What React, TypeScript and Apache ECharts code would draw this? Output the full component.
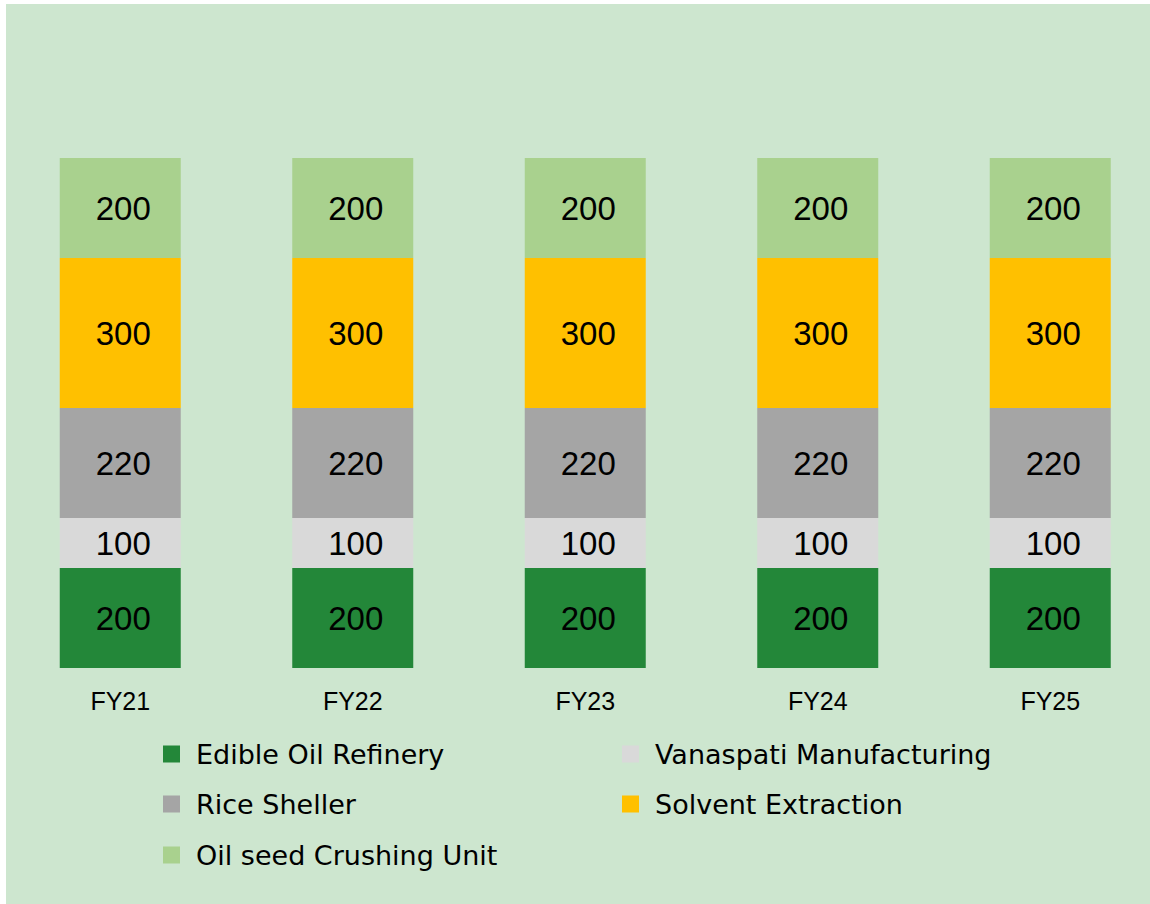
import React, { useEffect, useRef } from "react";
import * as echarts from "echarts";

const categories = ["FY21", "FY22", "FY23", "FY24", "FY25"];
const edibleOil = [200, 200, 200, 200, 200];
const vanaspati = [100, 100, 100, 100, 100];
const riceSheller = [220, 220, 220, 220, 220];
const solvent = [300, 300, 300, 300, 300];
const oilSeed = [200, 200, 200, 200, 200];

const seriesDefs = [
  { name: "Edible Oil Refinery", data: edibleOil, color: "#238739" },
  { name: "Vanaspati Manufacturing", data: vanaspati, color: "#D9D9D9" },
  { name: "Rice Sheller", data: riceSheller, color: "#A5A5A5" },
  { name: "Solvent Extraction", data: solvent, color: "#FFC000" },
  { name: "Oil seed Crushing Unit", data: oilSeed, color: "#A9D18E" },
];

const legendPos: Record<string, [number, number]> = {
  "Edible Oil Refinery": [163, 754],
  "Vanaspati Manufacturing": [622, 754],
  "Rice Sheller": [163, 804],
  "Solvent Extraction": [622, 804],
  "Oil seed Crushing Unit": [163, 855],
};

const FONT = "'Liberation Sans', Arial, sans-serif";
const LEGEND_FONT = "'DejaVu Sans', sans-serif";

export default function App() {
  const ref = useRef<HTMLDivElement>(null);
  useEffect(() => {
    if (!ref.current) return;
    const chart = echarts.init(ref.current, undefined, { renderer: "svg" });
    chart.setOption({
      animation: false,
      backgroundColor: "transparent",
      graphic: [
        {
          type: "rect",
          shape: { x: 6, y: 4, width: 1144, height: 900 },
          style: { fill: "#CDE6CF" },
          z: -10,
          silent: true,
        },
      ],
      grid: {
        left: 4,
        width: 1162.5,
        top: 68,
        bottom: 236,
        containLabel: false,
        outerBoundsMode: "none",
      },
      xAxis: {
        type: "category",
        data: categories,
        axisLine: { show: false },
        axisTick: { show: false },
        axisLabel: { color: "#000", fontSize: 25, fontFamily: FONT, margin: 20 },
      },
      yAxis: {
        type: "value",
        min: 0,
        max: 1200,
        show: false,
        splitLine: { show: false },
      },
      legend: seriesDefs.map((s) => ({
        data: [s.name],
        left: legendPos[s.name][0],
        top: legendPos[s.name][1] - 17,
        icon: "rect",
        itemWidth: 17,
        itemHeight: 17,
        padding: 0,
        selectedMode: false,
        textStyle: {
          color: "#000",
          fontSize: 27,
          fontFamily: LEGEND_FONT,
          padding: [0, 0, 0, 11],
          lineHeight: 34,
        },
      })),
      series: seriesDefs.map((s) => ({
        name: s.name,
        type: "bar",
        stack: "total",
        barWidth: 121,
        data: s.data,
        itemStyle: { color: s.color },
        label: {
          show: true,
          position: "inside",
          color: "#000",
          fontSize: 33,
          fontFamily: FONT,
          offset: [3, 0],
        },
      })),
    });
    return () => chart.dispose();
  }, []);
  return (
    <div
      ref={ref}
      style={{ position: "absolute", left: 0, top: 0, width: 1150, height: 904 }}
    />
  );
}
